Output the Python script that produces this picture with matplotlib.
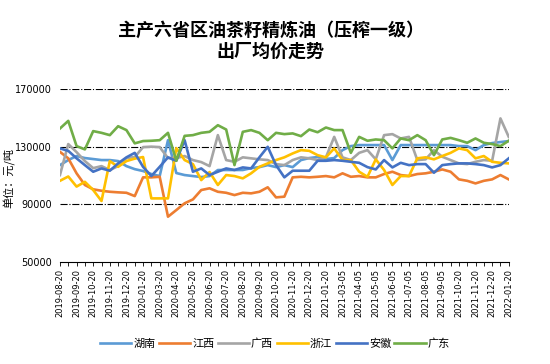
import matplotlib.pyplot as plt

plt.rcParams['font.family'] = ['Noto Sans CJK SC', 'DejaVu Sans']

# dates (only every second one is labelled on the axis)
dates = ['2019-08-20', '2019-09-05', '2019-09-20', '2019-10-05', '2019-10-20', '2019-11-05',
         '2019-11-20', '2019-12-05', '2019-12-20', '2020-01-05', '2020-01-20', '2020-03-05',
         '2020-03-20', '2020-04-05', '2020-04-20', '2020-05-05', '2020-05-20', '2020-06-05',
         '2020-06-20', '2020-07-05', '2020-07-20', '2020-08-05', '2020-08-20', '2020-09-05',
         '2020-09-20', '2020-10-05', '2020-10-20', '2020-11-05', '2020-11-20', '2020-12-05',
         '2020-12-20', '2021-01-05', '2021-01-20', '2021-02-20', '2021-03-05', '2021-03-20',
         '2021-04-05', '2021-04-20', '2021-05-05', '2021-05-20', '2021-06-05', '2021-06-20',
         '2021-07-05', '2021-07-20', '2021-08-05', '2021-08-20', '2021-09-05', '2021-10-05',
         '2021-10-20', '2021-11-05', '2021-11-20', '2021-12-05', '2021-12-20', '2022-01-05',
         '2022-01-20']

hunan = [117300, 120800, 123600, 122200, 121500, 120800, 120800, 120100, 116600, 114500,
         113200, 111100, 109700, 134600, 111800, 110400, 109700, 109000, 109700, 113900,
         113900, 113900, 113900, 115200, 115900, 117300, 115900, 117300, 115900, 120800,
         122200, 122900, 121500, 122200, 127700, 130500, 131200, 131200, 131200, 131200,
         120800, 131200, 131200, 131200, 131200, 131200, 131200, 131200, 130500, 130500,
         127700, 131200, 132600, 133300, 134000]

jiangxi = [126500, 122000, 111600, 103500, 100500, 99500, 98800, 98400, 98100, 95800,
           108800, 108800, 109200, 81500, 86100, 90800, 93500, 100000, 101200, 98800,
           98100, 96500, 98100, 97700, 98800, 101900, 94900, 95400, 108800, 109200,
           108800, 109200, 109700, 108800, 111600, 109200, 109700, 108800, 108800, 111100,
           112700, 110400, 109700, 111100, 111600, 112700, 114300, 112700, 107400, 106400,
           104600, 106400, 107400, 110400, 107400]

guangxi = [110400, 131900, 126300, 120100, 115200, 116600, 113900, 116600, 122200, 122900,
           129800, 130100, 129800, 122200, 122200, 123600, 120800, 119400, 116600, 138100,
           120800, 119600, 122700, 122000, 121300, 120800, 118000, 117300, 120800, 122700,
           122000, 120800, 122700, 136900, 122700, 120800, 125800, 127700, 121300, 138100,
           138800, 135800, 136900, 120800, 121300, 127700, 123100, 120800, 118500, 118000,
           119600, 120800, 120300, 149700, 136900]

zhejiang = [106400, 109400, 102400, 105700, 100000, 92400, 120100, 116100, 120100, 121800,
            122900, 94200, 94200, 94200, 129100, 120800, 118000, 106900, 112500, 103500,
            110400, 109700, 108100, 111600, 116100, 118500, 120800, 122700, 125400, 127700,
            127200, 124200, 122700, 128900, 120800, 120800, 112700, 109200, 121300, 113900,
            103500, 109700, 109700, 122000, 122700, 121300, 123600, 125800, 128900, 127700,
            122000, 123600, 119600, 118900, 118500]

anhui = [128900, 127200, 122000, 117300, 112700, 115000, 113400, 118500, 122700, 125800,
         116100, 109700, 116100, 122700, 120300, 134600, 112700, 115000, 110400, 112700,
         115000, 113900, 115700, 115000, 122700, 130000, 117300, 108800, 113400, 113400,
         113400, 120300, 120300, 120800, 120300, 119600, 118900, 115900, 114300, 120800,
         115700, 118900, 117300, 118000, 118000, 112000, 117300, 118000, 118500, 118500,
         118000, 117300, 115700, 117300, 122000]

guangdong = [142700, 148000, 130500, 128200, 140900, 139700, 138100, 144300, 141600, 132400,
             134000, 134200, 134600, 139700, 120300, 137600, 138100, 139700, 140400, 145000,
             142000, 117300, 140400, 141600, 139700, 134600, 139700, 138800, 139300, 137400,
             142000, 140100, 143400, 141600, 141600, 125800, 136900, 134200, 135100, 134600,
             128900, 135800, 134600, 138100, 134600, 124200, 135100, 136200, 134600, 132800,
             135800, 132800, 131900, 130500, 134200]

names = ['湖南', '江西', '广西', '浙江', '安徽', '广东']
series = [hunan, jiangxi, guangxi, zhejiang, anhui, guangdong]
colors = ['#5B9BD5', '#ED7D31', '#A5A5A5', '#FFC000', '#4472C4', '#70AD47']

fig = plt.figure(figsize=(5.5, 3.64), dpi=100)
ax = fig.add_axes([0.109, 0.28, 0.816, 0.475])

x = list(range(len(dates)))
for vals, name, c in zip(series, names, colors):
    ax.plot(x, vals, color=c, linewidth=1.9, label=name)

ax.set_xlim(0, len(dates) - 1)
ax.set_ylim(50000, 170000)
ax.set_yticks([50000, 90000, 130000, 170000])
ax.set_yticklabels(['50000', '90000', '130000', '170000'], fontsize=7, family='DejaVu Sans')
for yv in [90000, 130000, 170000]:
    ax.axhline(yv, color='black', linestyle='-.', linewidth=0.8, zorder=0)

ax.set_xticks(x)
ax.set_xticklabels([d if i % 2 == 0 else '' for i, d in enumerate(dates)],
                   rotation=90, fontsize=6, family='DejaVu Sans')
ax.tick_params(axis='x', length=3, width=0.6, direction='out', pad=2)
ax.tick_params(axis='y', length=0, pad=6)

for s in ['top', 'right', 'left']:
    ax.spines[s].set_visible(False)
ax.spines['bottom'].set_linewidth(0.8)

# two-line title
fig.text(0.492, 0.887, '主产六省区油茶籽精炼油（压榨一级）\n出厂均价走势', ha='center', va='center',
         fontsize=13, fontweight='bold', linespacing=1.15)
fig.text(0.017, 0.51, '单位：元/吨', rotation=90, ha='center', va='center', fontsize=8)

fig.legend(loc='center', bbox_to_anchor=(0.5, 0.055), ncol=6, frameon=False, fontsize=8,
           handlelength=2.8, handletextpad=0.2, columnspacing=0.3)

plt.savefig('out.png', dpi=100)
